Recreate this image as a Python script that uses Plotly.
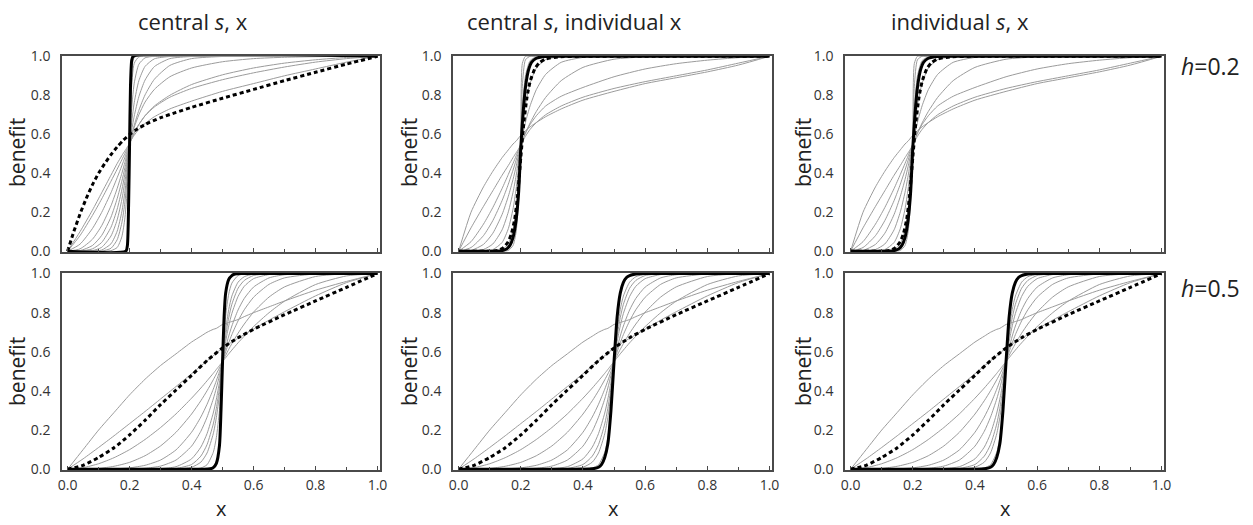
import plotly.graph_objects as go

# ---------------- data ----------------
TICK_VALUES = [0.0, 0.2, 0.4, 0.6, 0.8, 1.0]
TICK_LABELS = ["0.0", "0.2", "0.4", "0.6", "0.8", "1.0"]
MINOR_TICKS = [0.1, 0.3, 0.5, 0.7, 0.9]

COLUMN_TITLES = ["central <i>s</i>, x", "central <i>s</i>, individual x", "individual <i>s</i>, x"]
ROW_LABELS = ["<i>h</i>=0.2", "<i>h</i>=0.5"]

X_TOP = [0, 0.04, 0.08, 0.11, 0.14, 0.16, 0.175, 0.185, 0.195, 0.2, 0.205, 0.215,
         0.23, 0.25, 0.28, 0.33, 0.4, 0.5, 0.6, 0.7, 0.8, 0.9, 1.0]

TL_GREY = [
    [0, 0.10, 0.21, 0.30, 0.39, 0.45, 0.49, 0.515, 0.54, 0.555, 0.57, 0.595, 0.625, 0.655, 0.69, 0.73, 0.77, 0.82, 0.86, 0.90, 0.935, 0.97, 1],
    [0, 0.08, 0.183, 0.268, 0.359, 0.421, 0.469, 0.501, 0.534, 0.55, 0.569, 0.605, 0.65, 0.695, 0.74, 0.79, 0.835, 0.88, 0.915, 0.945, 0.97, 0.988, 1],
    [0, 0.036, 0.116, 0.199, 0.300, 0.377, 0.438, 0.482, 0.527, 0.55, 0.573, 0.61, 0.65, 0.695, 0.745, 0.80, 0.855, 0.905, 0.94, 0.965, 0.982, 0.994, 1],
    [0, 0.012, 0.061, 0.131, 0.233, 0.322, 0.399, 0.456, 0.518, 0.55, 0.582, 0.635, 0.70, 0.765, 0.83, 0.895, 0.94, 0.972, 0.988, 0.995, 0.998, 1, 1],
    [0, 0.003, 0.029, 0.081, 0.175, 0.270, 0.359, 0.428, 0.507, 0.55, 0.585, 0.646, 0.723, 0.802, 0.882, 0.953, 0.988, 0.999, 1, 1, 1, 1, 1],
    [0, 0.001, 0.012, 0.045, 0.123, 0.216, 0.314, 0.396, 0.494, 0.55, 0.604, 0.693, 0.793, 0.878, 0.947, 0.988, 0.999, 1, 1, 1, 1, 1, 1],
    [0, 0, 0.003, 0.020, 0.078, 0.161, 0.264, 0.358, 0.479, 0.55, 0.636, 0.762, 0.875, 0.948, 0.987, 0.999, 1, 1, 1, 1, 1, 1, 1],
    [0, 0, 0.001, 0.006, 0.038, 0.103, 0.202, 0.306, 0.455, 0.55, 0.696, 0.862, 0.959, 0.992, 1, 1, 1, 1, 1, 1, 1, 1, 1],
    [0, 0, 0, 0.001, 0.015, 0.059, 0.145, 0.252, 0.427, 0.55, 0.805, 0.964, 0.997, 1, 1, 1, 1, 1, 1, 1, 1, 1, 1],
    [0, 0, 0, 0, 0.003, 0.019, 0.074, 0.171, 0.376, 0.55, 0.90, 0.995, 1, 1, 1, 1, 1, 1, 1, 1, 1, 1, 1],
]
TL_THICK_X = [0, 0.188, 0.193, 0.197, 0.2, 0.203, 0.207, 0.212, 1.0]
TL_THICK_Y = [0, 0, 0.03, 0.25, 0.55, 0.85, 0.98, 1, 1]
TL_DASH_X = [0, 0.02, 0.04, 0.06, 0.08, 0.1, 0.12, 0.14, 0.16, 0.18, 0.2, 0.22, 0.25, 0.3, 0.35,
             0.4, 0.5, 0.6, 0.7, 0.8, 0.9, 1.0]
TL_DASH_Y = [0, 0.10, 0.19, 0.27, 0.34, 0.40, 0.45, 0.495, 0.535, 0.57, 0.598, 0.622, 0.65, 0.685, 0.712,
             0.738, 0.785, 0.83, 0.875, 0.918, 0.96, 1.0]

TM_GREY = [
    [0, 0.20, 0.33, 0.41, 0.48, 0.52, 0.55, 0.565, 0.585, 0.595, 0.603, 0.618, 0.638, 0.66, 0.69, 0.73, 0.775, 0.82, 0.86, 0.89, 0.92, 0.955, 1],
    [0, 0.12, 0.23, 0.31, 0.39, 0.44, 0.48, 0.505, 0.53, 0.545, 0.56, 0.59, 0.625, 0.66, 0.70, 0.745, 0.79, 0.835, 0.87, 0.90, 0.93, 0.965, 1],
    [0, 0.049, 0.139, 0.224, 0.322, 0.394, 0.45, 0.489, 0.53, 0.55, 0.57, 0.605, 0.65, 0.695, 0.745, 0.795, 0.84, 0.895, 0.935, 0.962, 0.98, 0.993, 1],
    [0, 0.019, 0.080, 0.157, 0.26, 0.344, 0.416, 0.467, 0.522, 0.55, 0.570, 0.607, 0.658, 0.717, 0.789, 0.875, 0.943, 0.985, 0.997, 1, 1, 1, 1],
    [0, 0.004, 0.035, 0.092, 0.189, 0.282, 0.368, 0.435, 0.510, 0.55, 0.590, 0.661, 0.746, 0.829, 0.907, 0.969, 0.994, 1, 1, 1, 1, 1, 1],
    [0, 0, 0.009, 0.037, 0.11, 0.202, 0.302, 0.387, 0.491, 0.55, 0.629, 0.750, 0.862, 0.939, 0.983, 0.998, 1, 1, 1, 1, 1, 1, 1],
    [0, 0, 0.001, 0.008, 0.045, 0.116, 0.216, 0.319, 0.461, 0.55, 0.726, 0.899, 0.978, 0.997, 1, 1, 1, 1, 1, 1, 1, 1, 1],
    [0, 0, 0, 0, 0.008, 0.038, 0.111, 0.216, 0.406, 0.55, 0.846, 0.982, 1, 1, 1, 1, 1, 1, 1, 1, 1, 1, 1],
    [0, 0, 0, 0, 0, 0.004, 0.029, 0.099, 0.315, 0.55, 0.963, 1, 1, 1, 1, 1, 1, 1, 1, 1, 1, 1, 1],
]
TM_THICK_X = [0, 0.12, 0.14, 0.155, 0.165, 0.175, 0.185, 0.193, 0.2, 0.207, 0.215, 0.225, 0.235, 0.25, 0.27, 0.3, 1.0]
TM_THICK_Y = [0, 0, 0.003, 0.012, 0.03, 0.07, 0.16, 0.3, 0.53, 0.70, 0.84, 0.93, 0.97, 0.99, 0.998, 1, 1]
TM_DASH_X = [0, 0.1, 0.13, 0.145, 0.16, 0.17, 0.18, 0.19, 0.2, 0.21, 0.22, 0.23, 0.245, 0.26, 0.28, 0.32, 0.4, 1.0]
TM_DASH_Y = [0, 0, 0.006, 0.02, 0.05, 0.09, 0.16, 0.29, 0.48, 0.66, 0.79, 0.87, 0.935, 0.967, 0.986, 0.997, 1, 1]

X_BOTTOM = [0, 0.05, 0.1, 0.15, 0.2, 0.25, 0.3, 0.35, 0.4, 0.43, 0.45, 0.47, 0.48, 0.49, 0.5,
            0.51, 0.52, 0.53, 0.55, 0.57, 0.6, 0.65, 0.7, 0.8, 0.9, 1.0]
B_GREY = [
    [0, 0.10, 0.20, 0.29, 0.38, 0.46, 0.53, 0.59, 0.65, 0.68, 0.70, 0.715, 0.72, 0.73, 0.74, 0.745, 0.75, 0.755, 0.765, 0.78, 0.80, 0.83, 0.86, 0.915, 0.96, 1],
    [0, 0.053, 0.111, 0.171, 0.233, 0.295, 0.359, 0.423, 0.488, 0.528, 0.554, 0.580, 0.593, 0.607, 0.62, 0.63, 0.64, 0.65, 0.669, 0.688, 0.716, 0.762, 0.805, 0.886, 0.954, 1],
    [0, 0.008, 0.028, 0.059, 0.100, 0.152, 0.213, 0.283, 0.363, 0.415, 0.452, 0.490, 0.510, 0.530, 0.55, 0.570, 0.590, 0.609, 0.646, 0.680, 0.729, 0.800, 0.859, 0.944, 0.988, 1],
    [0, 0.001, 0.004, 0.015, 0.035, 0.069, 0.119, 0.189, 0.282, 0.350, 0.401, 0.457, 0.487, 0.518, 0.55, 0.582, 0.613, 0.642, 0.695, 0.742, 0.803, 0.880, 0.932, 0.985, 0.999, 1],
    [0, 0, 0, 0.002, 0.007, 0.020, 0.047, 0.099, 0.189, 0.267, 0.332, 0.409, 0.452, 0.499, 0.55, 0.600, 0.646, 0.688, 0.758, 0.815, 0.879, 0.945, 0.978, 0.998, 1, 1],
    [0, 0, 0, 0, 0.001, 0.005, 0.016, 0.047, 0.118, 0.194, 0.266, 0.359, 0.415, 0.479, 0.55, 0.620, 0.681, 0.732, 0.814, 0.873, 0.931, 0.978, 0.994, 1, 1, 1],
    [0, 0, 0, 0, 0, 0, 0.003, 0.013, 0.053, 0.113, 0.182, 0.287, 0.358, 0.445, 0.55, 0.653, 0.733, 0.796, 0.883, 0.935, 0.974, 0.995, 0.999, 1, 1, 1],
    [0, 0, 0, 0, 0, 0, 0, 0.004, 0.024, 0.067, 0.126, 0.231, 0.311, 0.414, 0.55, 0.681, 0.775, 0.843, 0.925, 0.965, 0.990, 0.999, 1, 1, 1, 1],
    [0, 0, 0, 0, 0, 0, 0, 0.001, 0.010, 0.036, 0.083, 0.181, 0.264, 0.382, 0.55, 0.711, 0.817, 0.885, 0.956, 0.984, 0.997, 1, 1, 1, 1, 1],
    [0, 0, 0, 0, 0, 0, 0, 0, 0.001, 0.006, 0.023, 0.086, 0.162, 0.300, 0.55, 0.783, 0.896, 0.951, 0.990, 0.998, 1, 1, 1, 1, 1, 1],
]
BL_THICK_X = [0, 0.44, 0.46, 0.47, 0.48, 0.49, 0.495, 0.5, 0.505, 0.51, 0.52, 0.53, 0.54, 0.56, 1.0]
BL_THICK_Y = [0, 0, 0.002, 0.008, 0.03, 0.12, 0.3, 0.55, 0.78, 0.9, 0.97, 0.99, 0.998, 1, 1]
BM_THICK_X = [0, 0.4, 0.43, 0.45, 0.46, 0.47, 0.48, 0.49, 0.5, 0.51, 0.52, 0.53, 0.54, 0.55, 0.57, 0.6, 1.0]
BM_THICK_Y = [0, 0, 0.002, 0.01, 0.025, 0.06, 0.13, 0.3, 0.55, 0.78, 0.9, 0.955, 0.98, 0.99, 0.998, 1, 1]
B_DASH_X = [0, 0.05, 0.1, 0.15, 0.2, 0.25, 0.3, 0.35, 0.4, 0.45, 0.5, 0.55, 0.6, 0.7, 0.8, 0.9, 1.0]
B_DASH_Y = [0, 0.02, 0.06, 0.11, 0.175, 0.25, 0.33, 0.405, 0.48, 0.555, 0.62, 0.672, 0.715, 0.79, 0.86, 0.93, 1.0]

# ---------------- figure ----------------
W, H = 1253, 525
FONT = "Open Sans"
GREY = "rgb(155,155,155)"
FRAME = "#4a4a4a"
TEXT = "#222"

XDOM = [[62 / W, 380 / W], [453 / W, 772 / W], [845 / W, 1164 / W]]
YDOM = [[1 - 252 / H, 1 - 55.7 / H], [1 - 470 / H, 1 - 273 / H]]

panels = [
    (X_TOP, TL_GREY, TL_THICK_X, TL_THICK_Y, TL_DASH_X, TL_DASH_Y),
    (X_TOP, TM_GREY, TM_THICK_X, TM_THICK_Y, TM_DASH_X, TM_DASH_Y),
    (X_TOP, TM_GREY, TM_THICK_X, TM_THICK_Y, TM_DASH_X, TM_DASH_Y),
    (X_BOTTOM, B_GREY, BL_THICK_X, BL_THICK_Y, B_DASH_X, B_DASH_Y),
    (X_BOTTOM, B_GREY, BM_THICK_X, BM_THICK_Y, B_DASH_X, B_DASH_Y),
    (X_BOTTOM, B_GREY, BM_THICK_X, BM_THICK_Y, B_DASH_X, B_DASH_Y),
]

fig = go.Figure()
layout = dict(
    width=W, height=H, autosize=False,
    margin=dict(l=0, r=0, t=0, b=0, pad=0, autoexpand=False),
    paper_bgcolor="white", plot_bgcolor="white",
    showlegend=False,
    font=dict(family=FONT, color=TEXT),
)

for i, (xs, greys, tx, ty, dx, dy) in enumerate(panels):
    n = "" if i == 0 else str(i + 1)
    row, col = divmod(i, 3)
    for g in greys:
        fig.add_trace(go.Scatter(x=xs, y=g, mode="lines", xaxis="x" + n, yaxis="y" + n,
                                 line=dict(color=GREY, width=1, shape="spline", smoothing=0.6),
                                 hoverinfo="skip"))
    fig.add_trace(go.Scatter(x=tx, y=ty, mode="lines", xaxis="x" + n, yaxis="y" + n,
                             line=dict(color="black", width=3, shape="spline", smoothing=0.6),
                             hoverinfo="skip"))
    fig.add_trace(go.Scatter(x=dx, y=dy, mode="lines", xaxis="x" + n, yaxis="y" + n,
                             line=dict(color="black", width=3, dash="4px,3px", shape="spline", smoothing=0.6),
                             hoverinfo="skip"))
    layout["xaxis" + n] = dict(
        domain=XDOM[col], anchor="y" + n, range=[-0.018, 1.008], automargin=False,
        showline=True, mirror=True, linecolor=FRAME, linewidth=1.5,
        showgrid=False, zeroline=False,
        tickvals=TICK_VALUES, ticktext=TICK_LABELS,
        ticks="inside", ticklen=4, tickwidth=1, tickcolor=FRAME,
        minor=dict(tickvals=MINOR_TICKS, ticks="inside", ticklen=3, tickwidth=1, tickcolor=FRAME),
        showticklabels=(row == 1), ticklabelstandoff=1,
        tickfont=dict(family=FONT, size=14, color="#333"),
    )
    layout["yaxis" + n] = dict(
        domain=YDOM[row], anchor="x" + n, range=[-0.004, 1.003], automargin=False,
        showline=True, mirror=True, linecolor=FRAME, linewidth=1.5,
        showgrid=False, zeroline=False,
        tickvals=TICK_VALUES, ticktext=TICK_LABELS, ticks="",
        ticklabelstandoff=7,
        tickfont=dict(family=FONT, size=14, color="#333"),
    )

ann = []
title_x = [193, 574, 960]
for t, px in zip(COLUMN_TITLES, title_x):
    ann.append(dict(text=t, x=px / W, y=1 - 21 / H, xref="paper", yref="paper",
                    xanchor="center", yanchor="middle", showarrow=False,
                    font=dict(family=FONT, size=22, color=TEXT)))
ylab_x = [17, 409, 803]
ylab_y = [153, 372]
for py in ylab_y:
    for px in ylab_x:
        ann.append(dict(text="benefit", x=px / W, y=1 - py / H, xref="paper", yref="paper",
                        xanchor="center", yanchor="middle", textangle=-90, showarrow=False,
                        font=dict(family=FONT, size=21, color=TEXT)))
xlab_x = [221, 613, 1005]
for px in xlab_x:
    ann.append(dict(text="x", x=px / W, y=1 - 508 / H, xref="paper", yref="paper",
                    xanchor="center", yanchor="middle", showarrow=False,
                    font=dict(family=FONT, size=20, color=TEXT)))
for lab, py in zip(ROW_LABELS, [66, 288]):
    ann.append(dict(text=lab, x=1210 / W, y=1 - py / H, xref="paper", yref="paper",
                    xanchor="center", yanchor="middle", showarrow=False,
                    font=dict(family=FONT, size=23, color=TEXT)))
layout["annotations"] = ann

fig.update_layout(**layout)
fig.write_html(
    "out.html",
    config={"displayModeBar": False},
    post_script="document.body.style.margin='0';document.body.style.padding='0';document.body.style.overflow='hidden';",
)
